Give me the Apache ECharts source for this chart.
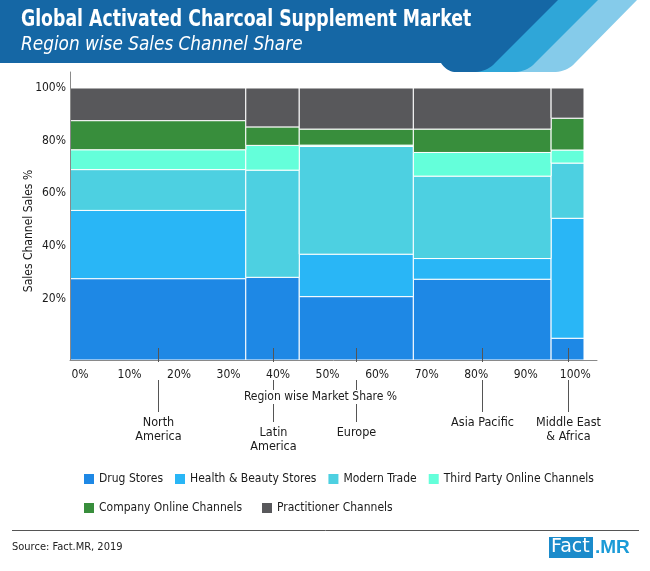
<!DOCTYPE html>
<html>
<head>
<meta charset="utf-8">
<script src="https://cdn.jsdelivr.net/npm/echarts@6/dist/echarts.min.js"></script>
<style>
html,body{margin:0;padding:0;background:#fff;}
#chart{width:650px;height:571px;}
</style>
</head>
<body>
<div id="chart"></div>
<script>
// ---------------- data ----------------
const regions = ['North America', 'Latin America', 'Europe', 'Asia Pacific', 'Middle East & Africa'];
const regionLabels = ['North\nAmerica', 'Latin\nAmerica', 'Europe', 'Asia Pacific', 'Middle East\n& Africa'];
const marketShare = [34.2, 10.4, 22.2, 26.8, 6.4];
const channels = ['Drug Stores', 'Health & Beauty Stores', 'Modern Trade', 'Third Party Online Channels', 'Company Online Channels', 'Practitioner Channels'];
const drugStores = [29.9, 30.4, 23.3, 29.7, 8.0];
const healthBeauty = [25.1, 0, 15.6, 7.6, 44.1];
const modernTrade = [15.0, 39.4, 39.6, 30.3, 20.3];
const thirdPartyOnline = [7.3, 9.1, 0.5, 8.7, 4.8];
const companyOnline = [10.7, 6.8, 5.9, 8.6, 11.7];
const practitioner = [12.0, 14.3, 15.1, 15.1, 11.1];
const xTickLabels = [0, 10, 20, 30, 40, 50, 60, 70, 80, 90, 100];
const yTickLabels = [20, 40, 60, 80, 100];

// ---------------- styles / layout ----------------
const channelValues = [drugStores, healthBeauty, modernTrade, thirdPartyOnline, companyOnline, practitioner];
const colors = ['#1E88E5', '#29B6F6', '#4DD0E1', '#64FFDA', '#388E3C', '#58585B'];
const FONT = "'DejaVu Sans Condensed', 'DejaVu Sans', sans-serif";
const labelDrop = [0, 10, 10, 0, 0];

// helper: polygon points with quadratic-curve corners (for the banner decoration)
function shape(cmds) {
  const pts = [];
  let cur = null;
  cmds.forEach(function (c) {
    if (c[0] === 'L') { cur = [c[1], c[2]]; pts.push(cur); }
    else if (c[0] === 'Q') {
      const p0 = cur, cx = c[1], cy = c[2], x = c[3], y = c[4];
      for (let t = 0.1; t <= 1.0001; t += 0.1) {
        const u = 1 - t;
        pts.push([u * u * p0[0] + 2 * u * t * cx + t * t * x, u * u * p0[1] + 2 * u * t * cy + t * t * y]);
      }
      cur = [x, y];
    }
  });
  return pts;
}

// cumulative x positions
const xStart = [];
let acc = 0;
marketShare.forEach(function (w) { xStart.push(acc); acc += w; });

const series = [];
const stackBase = regions.map(function () { return 0; });
channels.forEach(function (name, ci) {
  const data = [];
  regions.forEach(function (r, ri) {
    const v = channelValues[ci][ri];
    data.push([xStart[ri], xStart[ri] + marketShare[ri], stackBase[ri], stackBase[ri] + v]);
    stackBase[ri] += v;
  });
  series.push({
    type: 'custom',
    name: name,
    xAxisIndex: 0,
    yAxisIndex: 0,
    z: 2,
    itemStyle: { color: colors[ci] },
    encode: { x: [0, 1], y: [2, 3] },
    data: data,
    renderItem: function (params, api) {
      const y0 = api.value(2), y1 = api.value(3);
      if (y1 - y0 <= 0) return null;
      const a = api.coord([api.value(0), y1]);
      const b = api.coord([api.value(1), y0]);
      return {
        type: 'rect',
        shape: { x: a[0], y: a[1], width: b[0] - a[0], height: b[1] - a[1] },
        style: { fill: colors[ci], stroke: '#ffffff', lineWidth: 1 }
      };
    }
  });
});

// region labels with leader lines
series.push({
  type: 'custom',
  name: 'regionLabels',
  xAxisIndex: 0,
  yAxisIndex: 0,
  clip: false,
  silent: true,
  z: 4,
  encode: { x: 0, y: 1 },
  data: regions.map(function (r, i) { return [xStart[i] + marketShare[i] / 2, 0, i]; }),
  renderItem: function (params, api) {
    const i = api.value(2);
    const p = api.coord([api.value(0), 0]);
    const x = Math.round(p[0]) + 0.5, y = p[1];
    const d = labelDrop[i];
    return {
      type: 'group',
      children: [
        { type: 'line', shape: { x1: x, y1: y - 12, x2: x, y2: y + 2 }, style: { stroke: '#555', lineWidth: 1 } },
        { type: 'line', shape: { x1: x, y1: y + 20, x2: x, y2: y + 52 + d }, style: { stroke: '#555', lineWidth: 1 } },
        { type: 'text', style: { x: x, y: y + 56 + d, text: regionLabels[i], textAlign: 'center', textVerticalAlign: 'top',
            fill: '#1a1a1a', font: '12.5px ' + FONT, lineHeight: 14 } }
      ]
    };
  }
});

const chart = echarts.init(document.getElementById('chart'), null, { renderer: 'canvas' });
chart.setOption({
  animation: false,
  backgroundColor: '#ffffff',
  textStyle: { fontFamily: FONT },
  grid: { left: 70, right: 53, top: 72, bottom: 211, outerBoundsMode: 'none', containLabel: false },
  xAxis: [
    { type: 'value', min: 0, max: 102.53, z: 3,
      axisLine: { show: true, onZero: false, lineStyle: { color: '#8a8a8a', width: 1 } },
      axisTick: { show: false }, axisLabel: { show: false }, splitLine: { show: false } },
    { type: 'value', min: -2.02, max: 104.4, position: 'bottom', z: 10,
      axisLine: { show: false, onZero: false }, axisTick: { show: false }, splitLine: { show: false },
      axisLabel: { customValues: xTickLabels, formatter: '{value}%', color: '#1a1a1a', fontSize: 12, margin: 9, fontFamily: FONT },
      name: 'Region wise Market Share %', nameLocation: 'middle', nameGap: 30, nameMoveOverlap: false,
      nameTextStyle: { color: '#1a1a1a', fontSize: 12, fontFamily: FONT, backgroundColor: '#fff', padding: [1, 26, 1, 0] } }
  ],
  yAxis: [
    { type: 'value', min: 0, max: 105.88, axisLine: { show: false, onZero: false }, axisTick: { show: false },
      axisLabel: { show: false }, splitLine: { show: false } },
    { type: 'value', min: -3.3, max: 106.1, position: 'left', z: 3,
      axisLine: { show: true, onZero: false, lineStyle: { color: '#8a8a8a', width: 1 } }, axisTick: { show: false }, splitLine: { show: false },
      axisLabel: { customValues: yTickLabels, formatter: '{value}%', color: '#1a1a1a', fontSize: 12, margin: 4, fontFamily: FONT },
      name: 'Sales Channel Sales %', nameLocation: 'middle', nameGap: 35, nameRotate: 90, nameMoveOverlap: false,
      nameTextStyle: { color: '#1a1a1a', fontSize: 12, fontFamily: FONT, padding: [0, 30, 0, 0] } }
  ],
  legend: [
    { data: channels.slice(0, 4), left: 79, top: 468, itemWidth: 10, itemHeight: 10, itemGap: 12, icon: 'rect',
      textStyle: { color: '#1a1a1a', fontSize: 12, fontFamily: FONT } },
    { data: channels.slice(4), left: 79, top: 497, itemWidth: 10, itemHeight: 10, itemGap: 20, icon: 'rect',
      textStyle: { color: '#1a1a1a', fontSize: 12, fontFamily: FONT } }
  ],
  graphic: [
    { type: 'polygon', silent: true, shape: { points: shape([['L', 500, 0], ['L', 637, 0], ['L', 575, 63], ['Q', 567, 72, 553, 72], ['L', 500, 72]]) }, style: { fill: '#85CBEA' } },
    { type: 'polygon', silent: true, shape: { points: shape([['L', 460, 0], ['L', 598, 0], ['L', 535, 63], ['Q', 527, 72, 513, 72], ['L', 470, 72]]) }, style: { fill: '#2FA6D8' } },
    { type: 'polygon', silent: true, shape: { points: shape([['L', 0, 0], ['L', 558, 0], ['L', 495, 63], ['Q', 487, 72, 473, 72], ['L', 456, 72], ['Q', 447, 72, 441, 63], ['L', 0, 63]]) }, style: { fill: '#1567A5' } },
    { type: 'text', x: 21, y: 9, scaleX: 0.836, style: { text: 'Global Activated Charcoal Supplement Market', fill: '#ffffff',
        font: 'bold 23px ' + FONT, textVerticalAlign: 'top' } },
    { type: 'text', x: 21, y: 35, scaleX: 0.94, style: { text: 'Region wise Sales Channel Share', fill: '#ffffff',
        font: 'italic 20px ' + FONT, textVerticalAlign: 'top' } },
    { type: 'line', silent: true, shape: { x1: 12, y1: 530.5, x2: 639, y2: 530.5 }, style: { stroke: '#555', lineWidth: 1 } },
    { type: 'text', left: 12, top: 542, style: { text: 'Source: Fact.MR, 2019', fill: '#222', font: '11px ' + FONT } },
    { type: 'rect', silent: true, shape: { x: 549, y: 537, width: 44, height: 21 }, style: { fill: '#1B8BCB' } },
    { type: 'text', left: 551, top: 538, style: { text: 'Fact', fill: '#ffffff', font: '19px ' + "'DejaVu Sans', sans-serif" } },
    { type: 'text', left: 595, top: 538, style: { text: '.MR', fill: '#1B9BD7', font: 'bold 19px ' + "'Liberation Sans', sans-serif" } }
  ],
  series: series
});
</script>
</body>
</html>
